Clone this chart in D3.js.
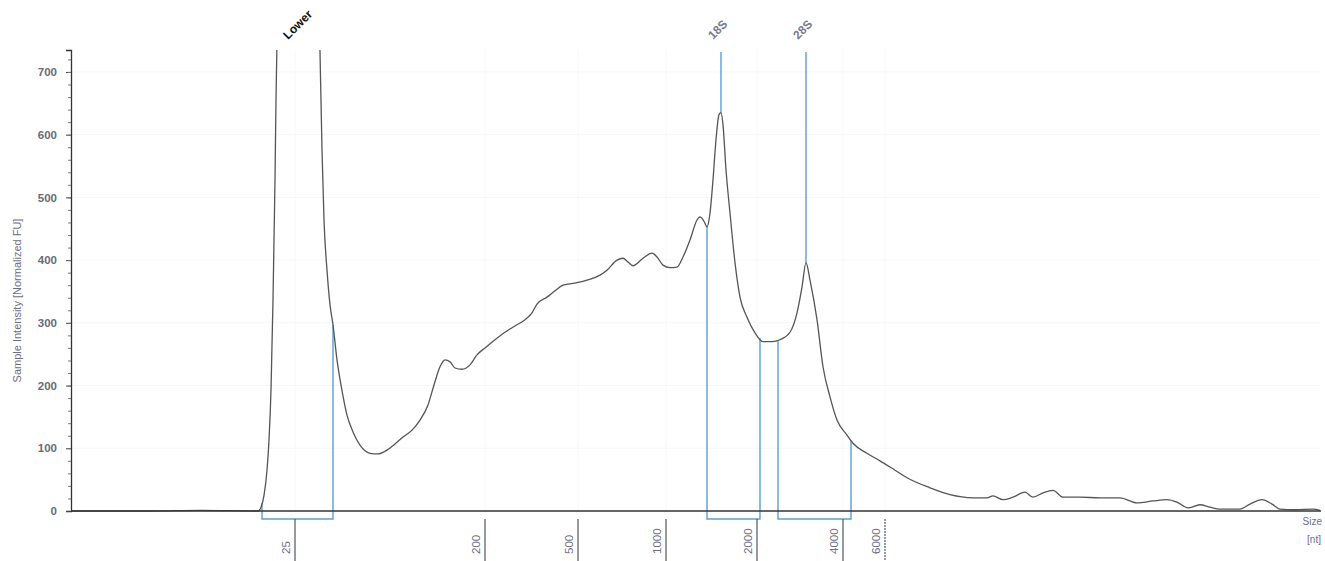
<!DOCTYPE html>
<html>
<head>
<meta charset="utf-8">
<script src="https://cdn.jsdelivr.net/npm/d3@7"></script>
<style>
  body { margin: 0; background: #fff; }
  svg { display: block; font-family: "Liberation Sans", Arial, sans-serif; }
  .ytick text { fill: #6a6a78; font-weight: bold; font-size: 11.5px; }
  .ladder text { fill: #6e6e86; font-size: 11.5px; }
</style>
</head>
<body>
<div id="chart"></div>
<script>
// migration time (arbitrary units) and sample intensity [FU]
var time = [0, 7.9, 12.9, 18.7, 19.0, 19.3, 19.6, 19.8, 20.0, 20.2, 20.4, 20.5, 20.6, 20.8, 21.5, 22.7, 24.0, 24.7, 24.9,
    25.0, 25.1, 25.3, 25.6, 25.9, 26.2, 26.6, 27.0, 27.6, 28.2, 28.9, 29.9, 30.7, 31.6, 32.4, 33.2, 34.1, 34.9,
    35.7, 36.3, 36.9, 37.4, 37.9, 38.4, 39.1, 39.9, 40.6, 41.4, 42.4, 43.4, 44.4, 45.4, 46.1, 46.6, 47.6, 48.4,
    49.2, 50.6, 51.6, 52.9, 53.6, 54.6, 55.2, 55.7, 56.2, 57.2, 58.1, 58.6, 59.2, 59.9, 60.6, 61.2, 61.9, 62.6,
    62.9, 63.3, 63.6, 63.9, 64.2, 64.5, 64.8, 65.0, 65.2, 65.5, 65.9, 66.4, 66.9, 67.6, 68.4, 69.2, 70.1, 70.9,
    71.9, 72.6, 73.1, 73.5, 73.9, 74.6, 75.2, 75.9, 76.6, 77.6, 78.2, 79.6, 80.9, 82.4, 83.6, 85.9, 87.9, 90.2,
    91.6, 92.2, 93.2, 94.2, 95.4, 96.2, 97.2, 98.2, 99.2, 100.9, 102.9, 104.9, 106.6, 108.2, 109.6, 110.6, 111.7,
    112.9, 113.9, 114.9, 116.9, 117.9, 119.1, 120.1, 120.9, 122.4, 124.2, 124.9];
var intensity = [0, 0, 1, 0, 6, 25, 65, 113, 193, 336, 528, 655, 750, 950, 1400, 1600, 1400, 950, 732,
    655, 576, 464, 384, 329, 297, 241, 201, 153, 126, 105, 92, 91, 97, 107, 118, 129, 145,
    169, 201, 230, 241, 238, 228, 226, 233, 249, 260, 273, 285, 295, 305, 316, 330, 341, 351,
    360, 364, 368, 376, 384, 400, 403, 397, 391, 403, 411, 405, 392, 388, 389, 405, 432, 464,
    469, 462, 453, 475, 528, 592, 632, 635, 616, 544, 475, 396, 341, 309, 284, 270, 270, 273,
    285, 316, 357, 396, 368, 305, 230, 182, 145, 121, 108, 92, 80, 65, 53, 37, 26, 21,
    21, 24, 18, 22, 30, 22, 29, 33, 22, 22, 21, 21, 13, 16, 18, 14, 5,
    10, 6, 3, 3, 11, 18, 11, 3, 2, 3, 1];

var yTicks = [0, 100, 200, 300, 400, 500, 600, 700];

// ladder sizes [nt] and their migration times
var ladderSizes = ["25", "200", "500", "1000", "2000", "4000", "6000"];
var ladderTimes = [22.4, 41.4, 50.7, 59.5, 68.6, 77.2, 81.4];

// peaks and integrated regions
var peakNames = ["Lower", "18S", "28S"];
var peakTimes = [22.5, 65.0, 73.5];
var regionStart = [19.1, 63.6, 70.7];
var regionEnd = [26.2, 68.9, 78.0];

var width = 1325, height = 561;
var margin = {top: 50, right: 4, bottom: 50, left: 71};

var svg = d3.select("#chart").append("svg")
    .attr("width", width)
    .attr("height", height);

var x = d3.scaleLinear()
    .domain([0, 125])
    .range([margin.left, width - margin.right]);
var y = d3.scaleLinear()
    .domain([0, 735])
    .range([height - margin.bottom, margin.top]);

var data = time.map(function (t, i) { return {t: t, v: intensity[i]}; });

function valueAt(t) {
    var i = d3.bisector(function (d) { return d.t; }).left(data, t);
    if (i <= 0) return data[0].v;
    var a = data[i - 1], b = data[i];
    return a.v + (b.v - a.v) * (t - a.t) / (b.t - a.t);
}

// very faint grid
svg.append("g")
    .selectAll("line")
    .data(yTicks.slice(1))
    .enter().append("line")
    .attr("x1", x(0)).attr("x2", x(125))
    .attr("y1", function (d) { return y(d); })
    .attr("y2", function (d) { return y(d); })
    .attr("stroke", "#f7f7f9");
svg.append("g")
    .selectAll("line")
    .data(ladderTimes)
    .enter().append("line")
    .attr("x1", function (d) { return x(d); })
    .attr("x2", function (d) { return x(d); })
    .attr("y1", y(0)).attr("y2", y(735))
    .attr("stroke", "#f8f8fa");

// region brackets
var bracketDrop = 8;
regionStart.forEach(function (s, i) {
    var e = regionEnd[i];
    var yb = y(0) + bracketDrop;
    var p = "M" + x(s) + "," + y(valueAt(s)) +
        "L" + x(s) + "," + yb +
        "L" + x(e) + "," + yb +
        "L" + x(e) + "," + y(valueAt(e));
    svg.append("path")
        .attr("d", p)
        .attr("fill", "none")
        .attr("stroke", "#5b9fd6")
        .attr("stroke-width", 1.4);
});

// peak marker lines for 18S / 28S
peakTimes.forEach(function (t, i) {
    if (i === 0) return;
    svg.append("line")
        .attr("x1", x(t)).attr("x2", x(t))
        .attr("y1", y(735) + 2).attr("y2", y(valueAt(t)))
        .attr("stroke", "#5b9fd6")
        .attr("stroke-width", 1.4);
});

// electropherogram trace
svg.append("defs").append("clipPath")
    .attr("id", "clip")
    .append("rect")
    .attr("x", x(0)).attr("y", y(735))
    .attr("width", x(125) - x(0))
    .attr("height", y(0) - y(735) + 2);

var line = d3.line()
    .curve(d3.curveMonotoneX)
    .x(function (d) { return x(d.t); })
    .y(function (d) { return y(d.v); });

svg.append("path")
    .datum(data)
    .attr("clip-path", "url(#clip)")
    .attr("d", line)
    .attr("fill", "none")
    .attr("stroke", "#555")
    .attr("stroke-width", 1.3);

// x axis baseline
svg.append("line")
    .attr("x1", x(0)).attr("x2", x(125))
    .attr("y1", y(0)).attr("y2", y(0))
    .attr("stroke", "#333")
    .attr("stroke-width", 1.3);

// y axis
var yAxis = svg.append("g")
    .attr("class", "ytick")
    .attr("transform", "translate(" + x(0) + ",0)")
    .call(d3.axisLeft(y).tickValues(yTicks).tickSize(5).tickPadding(9));
yAxis.select(".domain").attr("stroke", "#333").attr("stroke-width", 1.3);
yAxis.selectAll(".tick line").attr("stroke", "#444");
svg.append("g")
    .attr("transform", "translate(" + x(0) + ",0)")
    .call(d3.axisLeft(y).tickValues(d3.range(20, 735, 20)).tickSize(3).tickFormat(""))
    .call(function (g) { g.select(".domain").remove(); })
    .selectAll("line").attr("stroke", "#777");

svg.append("text")
    .attr("transform", "translate(21," + ((y(0) + y(735)) / 2 + 20) + ") rotate(-90)")
    .attr("text-anchor", "middle")
    .attr("fill", "#6e6e86")
    .attr("font-size", 11)
    .text("Sample Intensity [Normalized FU]");

// ladder size ticks
var lad = svg.append("g").attr("class", "ladder");
ladderTimes.forEach(function (t, i) {
    lad.append("line")
        .attr("x1", x(t)).attr("x2", x(t))
        .attr("y1", y(0) + bracketDrop).attr("y2", height)
        .attr("stroke", "#555")
        .attr("stroke-width", 1.2)
        .attr("stroke-dasharray", i === ladderSizes.length - 1 ? "2,1" : null);
    lad.append("text")
        .attr("transform", "translate(" + (x(t) - 5) + "," + (height - 7) + ") rotate(-90)")
        .attr("text-anchor", "start")
        .text(ladderSizes[i]);
});

svg.append("text")
    .attr("x", width - 3).attr("y", 525)
    .attr("text-anchor", "end")
    .attr("fill", "#6e6e86")
    .attr("font-size", 10)
    .text("Size");
svg.append("text")
    .attr("x", width - 4).attr("y", 543)
    .attr("text-anchor", "end")
    .attr("fill", "#6e6e86")
    .attr("font-size", 10)
    .text("[nt]");

// peak labels
peakTimes.forEach(function (t, i) {
    svg.append("text")
        .attr("transform", "translate(" + (x(t) - 8) + ",40) rotate(-45)")
        .attr("text-anchor", "start")
        .attr("fill", i === 0 ? "#111" : "#7a7a8c")
        .attr("font-weight", "bold")
        .attr("font-size", 12)
        .text(peakNames[i]);
});
</script>
</body>
</html>
